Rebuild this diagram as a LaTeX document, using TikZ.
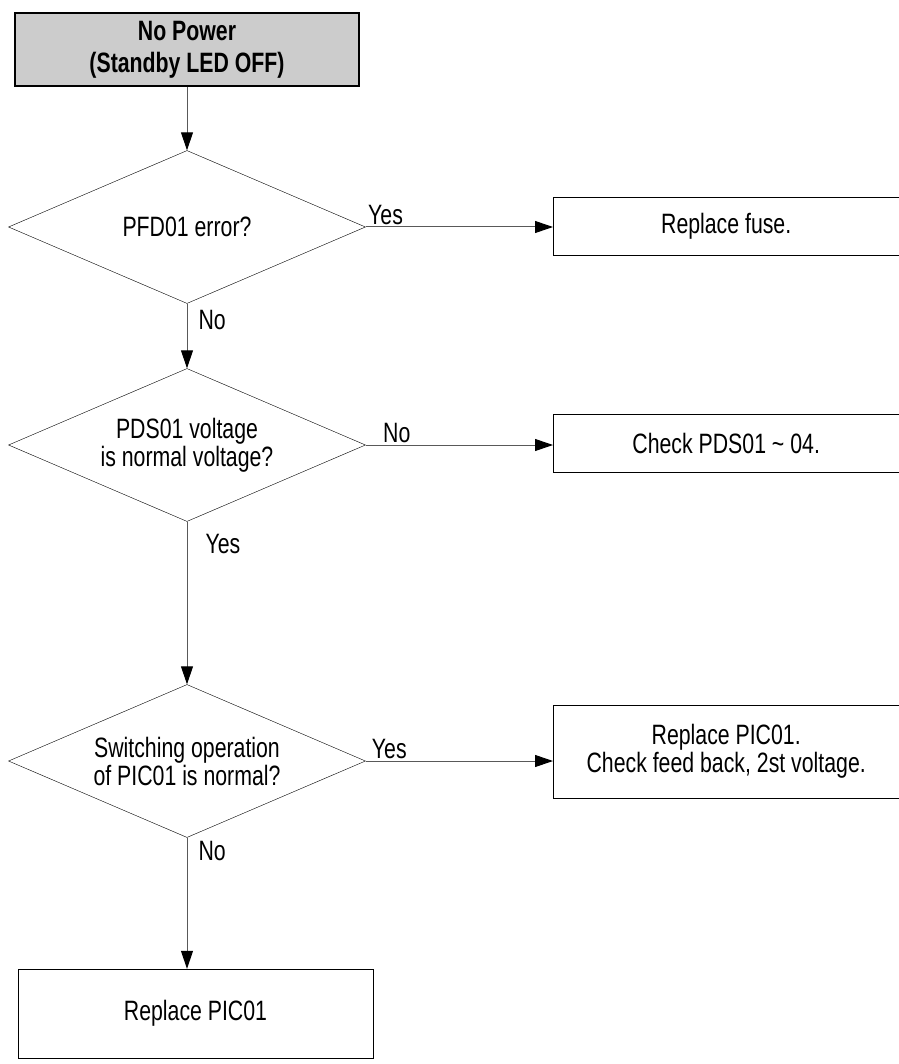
\documentclass[tikz,border=0pt]{standalone}
\usepackage{fontspec}
\setmainfont{Liberation Sans}[FakeStretch=0.76]
\usetikzlibrary{shapes.geometric,arrows.meta}

\begin{document}
\begin{tikzpicture}[
      x=1pt, y=-1pt,
      every node/.style={font=\fontsize{28}{28}\selectfont},
      decision/.style={draw, diamond, aspect=2.3, inner sep=0pt, minimum width=357pt, minimum height=153pt, align=center},
      action/.style={draw, rectangle, minimum width=352pt, minimum height=58pt, align=center},
      flow/.style={draw=black!65, line width=1pt, -{Triangle[length=18pt, width=12pt, black]}},
      answer/.style={inner sep=2pt}
    ]
      \useasboundingbox (0,0) rectangle (898,1064);

      % start
      \node[draw, line width=1.3pt, fill=black!20, minimum width=344pt, minimum height=73pt, align=center,
            font=\bfseries\fontsize{28}{32}\selectfont] (power) at (187,49.5) {No Power\\(Standby LED OFF)};

      % questions
      \node[decision] (fuseq) at (187,227) {PFD01 error?};
      \node[decision] (pdsq) at (187,445) {PDS01 voltage\\is normal voltage?};
      \node[decision] (picq) at (187,761) {Switching operation\\of PIC01 is normal?};

      % actions
      \node[action, anchor=west] (fuse) at (553,226) {\hspace*{-6pt}Replace fuse.};
      \node[action, anchor=west] (pds) at (553,443) {\hspace*{-6pt}Check PDS01 \textasciitilde{} 04.};
      \node[action, anchor=west, minimum height=93pt] (pic) at (553,751.5) {\hspace*{-6pt}Replace PIC01.\\\hspace*{-6pt}Check feed back, 2st voltage.};
      \node[action, minimum width=355pt, minimum height=89pt] (newpic) at (195.5,1013.5) {Replace PIC01};

      % connectors
      \draw[flow] (power.south) -- (fuseq.north);
      \draw[flow] (fuseq.east) -- node[answer, pos=0, anchor=south west] {Yes} (fuseq.east -| fuse.west);
      \draw[flow] (fuseq.south) -- node[answer, pos=0.26, anchor=west, xshift=9pt] {No} (pdsq.north);
      \draw[flow] (pdsq.east) -- node[answer, pos=0.08, anchor=south west] {No} (pdsq.east -| pds.west);
      \draw[flow] (pdsq.south) -- node[answer, pos=0.14, anchor=west, xshift=16pt] {Yes} (picq.north);
      \draw[flow] (picq.east) -- node[answer, pos=0.02, anchor=south west] {Yes} (picq.east -| pic.west);
      \draw[flow] (picq.south) -- node[answer, pos=0.1, anchor=west, xshift=9pt] {No} (picq.south |- newpic.north);
    \end{tikzpicture}
\end{document}
